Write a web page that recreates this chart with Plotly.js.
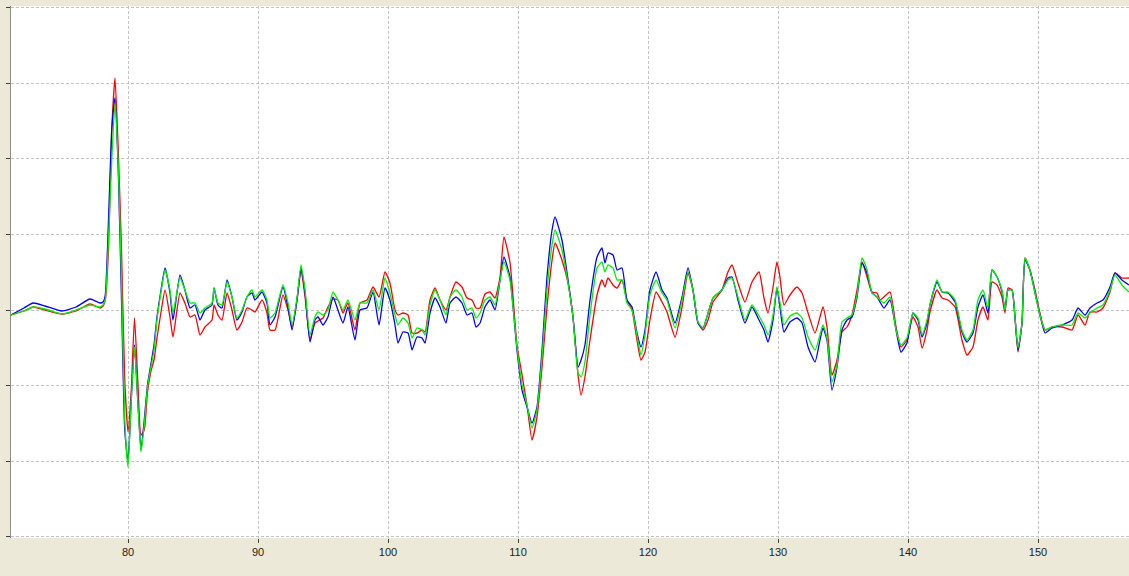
<!DOCTYPE html>
<html>
<head>
<meta charset="utf-8">
<script src="https://cdn.plot.ly/plotly-3.0.1.min.js"></script>
<style>
  html, body { margin: 0; padding: 0; background: #ECE9D8; }
  #chart { width: 1129px; height: 576px; }
</style>
</head>
<body>
<div id="chart"></div>
<script>
// Time axis (shared sample positions)
const time = [
  71.00, 72.00, 72.69, 73.62, 74.92, 76.00, 77.08, 77.85, 78.08, 78.25,
  78.5, 78.75, 79, 79.25, 79.5, 79.75, 80, 80.25, 80.5, 80.75,
  81, 81.25, 81.5, 81.75, 82, 82.23, 82.54, 82.85, 83.23, 83.46,
  84.00, 84.38, 84.77, 85.15, 85.54, 85.92, 86.46, 86.62, 86.92, 87.23,
  87.62, 88.00, 88.38, 88.77, 89.15, 89.54, 89.77, 90.31, 90.69, 90.92,
  91.31, 91.92, 92.31, 92.62, 93.00, 93.31, 93.62, 94.00, 94.38, 94.62,
  95.00, 95.38, 95.77, 96.15, 96.54, 96.92, 97.46, 97.85, 98.38, 98.85,
  99.31, 99.77, 100.15, 100.54, 100.77, 101.15, 101.54, 101.85, 102.23, 102.62,
  102.85, 103.23, 103.62, 104.00, 104.46, 104.77, 105.23, 105.69, 106.08, 106.46,
  106.77, 107.08, 107.46, 107.85, 108.23, 108.62, 108.92, 109.38, 109.92, 110.31,
  110.69, 111.08, 111.46, 111.85, 112.23, 112.62, 112.85, 113.38, 113.85, 114.23,
  114.62, 114.85, 115.15, 115.54, 116.08, 116.46, 116.69, 116.92, 117.31, 117.62,
  118.00, 118.38, 118.77, 119.15, 119.46, 119.77, 120.15, 120.62, 121.08, 121.46,
  122.08, 122.62, 123.08, 123.46, 123.85, 124.23, 124.62, 125.00, 125.69, 126.15,
  126.46, 126.92, 127.46, 128.00, 128.54, 128.92, 129.23, 129.62, 129.92, 130.15,
  130.46, 130.92, 131.46, 131.85, 132.31, 132.85, 133.23, 133.46, 133.77, 134.15,
  134.54, 134.92, 135.31, 135.69, 136.08, 136.46, 136.85, 137.23, 137.62, 137.85,
  138.15, 138.62, 139.08, 139.46, 139.92, 140.38, 140.77, 141.08, 141.46, 141.69,
  142.23, 142.62, 143.08, 143.62, 144.15, 144.54, 145.00, 145.38, 145.77, 146.15,
  146.46, 146.85, 147.23, 147.46, 147.69, 148.00, 148.23, 148.46, 148.77, 149.00,
  149.38, 149.77, 150.15, 150.54, 151.08, 151.85, 152.62, 153.08, 153.62, 154.00,
  154.54, 155.00, 155.54, 155.92, 156.46, 157.00
];

// Amplitudes (arbitrary units; one grid division = 75.6)
const blueSeries = [
  -5, 2, 7, 4, -1, 3, 11, 7, 8, 15,
  90, 180, 212, 140, 10, -120, -152, -90, -35, -90,
  -140, -110, -75, -55, -35, -7, 20, 42, 17, -10,
  35, 20, 2, 5, -10, 0, 5, 22, 5, 2,
  30, 13, -10, -2, 13, 17, 10, 18, 7, -15,
  -7, 23, 3, -20, 10, 42, 17, -32, -10, -7,
  -15, -7, 13, 0, -13, 3, -30, 0, 2, 18,
  -15, 22, 10, -15, -33, -22, -23, -40, -27, -28,
  -33, -3, 12, 3, -13, 7, 13, 7, -5, -3,
  -17, -13, 3, 10, 0, 30, 53, 33, -40, -80,
  -97, -113, -97, -40, 33, 80, 93, 70, 30, -7,
  -57, -50, -35, 10, 53, 62, 47, 57, 55, 40,
  42, 10, 3, -23, -37, -20, 20, 38, 20, 12,
  -13, 13, 42, 20, -13, -18, -3, 12, 20, 32,
  33, 10, -13, 3, -10, -20, -32, -10, 22, 3,
  -22, -12, -8, -13, -37, -52, -30, -18, -30, -80,
  -57, -20, -10, -7, 13, 47, 37, 17, 13, 8,
  2, 10, -20, -42, -33, -3, -10, -27, -13, 5,
  28, 18, 17, 8, -22, -32, -23, 3, 15, -3,
  40, 33, 18, 0, 20, 20, -7, -40, -13, 50,
  40, 17, -5, -23, -18, -15, -10, 2, -5, 2,
  7, 10, 23, 37, 30, 25
];

const greenSeries = [
  -5, -1, 3, 1, -4, 0, 5, 3, 5, 10,
  70, 150, 207, 145, 30, -110, -157, -90, -37, -90,
  -142, -115, -77, -58, -40, -10, 18, 40, 20, -3,
  32, 20, 7, 7, -3, 2, 7, 22, 7, 5,
  28, 13, -8, 0, 13, 20, 13, 20, 10, -8,
  -3, 25, 7, -15, 12, 45, 20, -25, -7, -2,
  -5, 0, 18, 10, 0, 10, -10, 7, 7, 20,
  0, 32, 17, -5, -15, -8, -13, -28, -18, -20,
  -25, 5, 20, 10, -5, 13, 20, 13, 0, 2,
  -8, -3, 10, 13, 5, 30, 48, 30, -37, -75,
  -95, -118, -100, -47, 20, 65, 80, 60, 27, -7,
  -63, -67, -52, -5, 42, 48, 38, 45, 42, 30,
  30, 7, 0, -25, -45, -25, 15, 30, 17, 10,
  -18, 10, 38, 20, -12, -18, -3, 12, 20, 30,
  32, 13, -10, 5, -6, -15, -25, -5, 23, 8,
  -15, -6, -3, -8, -27, -40, -25, -15, -28, -72,
  -55, -12, -8, -5, 15, 52, 40, 17, 13, 10,
  7, 13, -20, -35, -28, -3, -8, -25, -10, 5,
  30, 18, 18, 10, -20, -30, -20, 10, 20, 2,
  40, 33, 20, 0, 20, 20, -7, -38, -13, 52,
  40, 17, -5, -20, -17, -15, -15, -3, -8, -3,
  2, 5, 20, 35, 25, 18
];

const redSeries = [
  -5, -1, 3, 0, -4, -1, 6, 2, 4, 10,
  60, 180, 232, 160, 60, -70, -122, -80, -8, -70,
  -125, -120, -82, -62, -50, -28, -2, 20, -7, -27,
  17, 7, -7, -5, -25, -17, -10, 5, -5, -10,
  17, 0, -20, -12, 2, 0, -2, 10, -3, -20,
  -20, 15, 0, -17, 10, 40, 13, -30, -13, -11,
  -8, 3, 11, 10, -3, 7, -20, 7, 10, 23,
  13, 38, 27, 0, -5, -3, -5, -23, -23, -20,
  -22, 10, 22, 10, 0, 13, 28, 23, 12, 10,
  2, 2, 16, 18, 12, 33, 73, 48, -35, -65,
  -95, -130, -107, -57, 3, 50, 67, 50, 27, -7,
  -65, -85, -67, -30, 15, 30, 23, 32, 25, 22,
  30, 10, 0, -30, -50, -42, -10, 18, 8, -2,
  -27, 3, 37, 20, -13, -20, -10, 8, 20, 38,
  45, 27, 8, 28, 38, 12, -3, 23, 48, 33,
  5, 15, 23, 17, -3, -23, -7, 3, -17, -65,
  -50, -22, -17, -5, 20, 48, 33, 18, 17, 10,
  13, 18, -17, -37, -30, -7, -17, -38, -20, -2,
  20, 12, 10, 3, -30, -45, -37, -10, 3, -10,
  28, 25, 13, -3, 22, 20, -8, -42, -13, 52,
  40, 20, -3, -20, -17, -17, -20, -5, -15, -2,
  -2, 2, 18, 37, 32, 32
];

const xTickVals = [80, 90, 100, 110, 120, 130, 140, 150];
const xTickText = ['80', '90', '100', '110', '120', '130', '140', '150'];

const lineShape = { shape: 'spline', smoothing: 0.5, width: 1.3 };

const traces = [
  { x: time, y: redSeries, mode: 'lines', name: 'red',
    line: Object.assign({ color: '#FF0000' }, lineShape) },
  { x: time, y: blueSeries, mode: 'lines', name: 'blue',
    line: Object.assign({ color: '#0000FF' }, lineShape) },
  { x: time, y: greenSeries, mode: 'lines', name: 'green',
    line: Object.assign({ color: '#00F000' }, lineShape) }
];

const layout = {
  width: 1129,
  height: 576,
  margin: { l: 11, r: 0, t: 6, b: 38, pad: 0 },
  paper_bgcolor: '#ECE9D8',
  plot_bgcolor: '#FFFFFF',
  showlegend: false,
  xaxis: {
    range: [71, 157],
    tickmode: 'array',
    tickvals: xTickVals,
    ticktext: xTickText,
    ticks: 'outside',
    ticklen: 4,
    tickcolor: '#404040',
    tickfont: { family: 'Liberation Sans, Arial, sans-serif', size: 11, color: '#222222' },
    showgrid: true,
    gridcolor: '#C4C4C4',
    griddash: '3px,2px',
    gridwidth: 1,
    zeroline: false,
    showline: false,
    fixedrange: true
  },
  yaxis: {
    range: [-228, 304],
    tick0: 0,
    dtick: 75.6,
    showticklabels: false,
    ticks: 'outside',
    ticklen: 4,
    tickcolor: '#404040',
    showgrid: true,
    gridcolor: '#C4C4C4',
    griddash: '3px,2px',
    gridwidth: 1,
    zeroline: false,
    showline: true,
    linecolor: '#8C8C8C',
    linewidth: 1,
    fixedrange: true
  }
};

Plotly.newPlot('chart', traces, layout, { staticPlot: true, displayModeBar: false });
</script>
</body>
</html>
